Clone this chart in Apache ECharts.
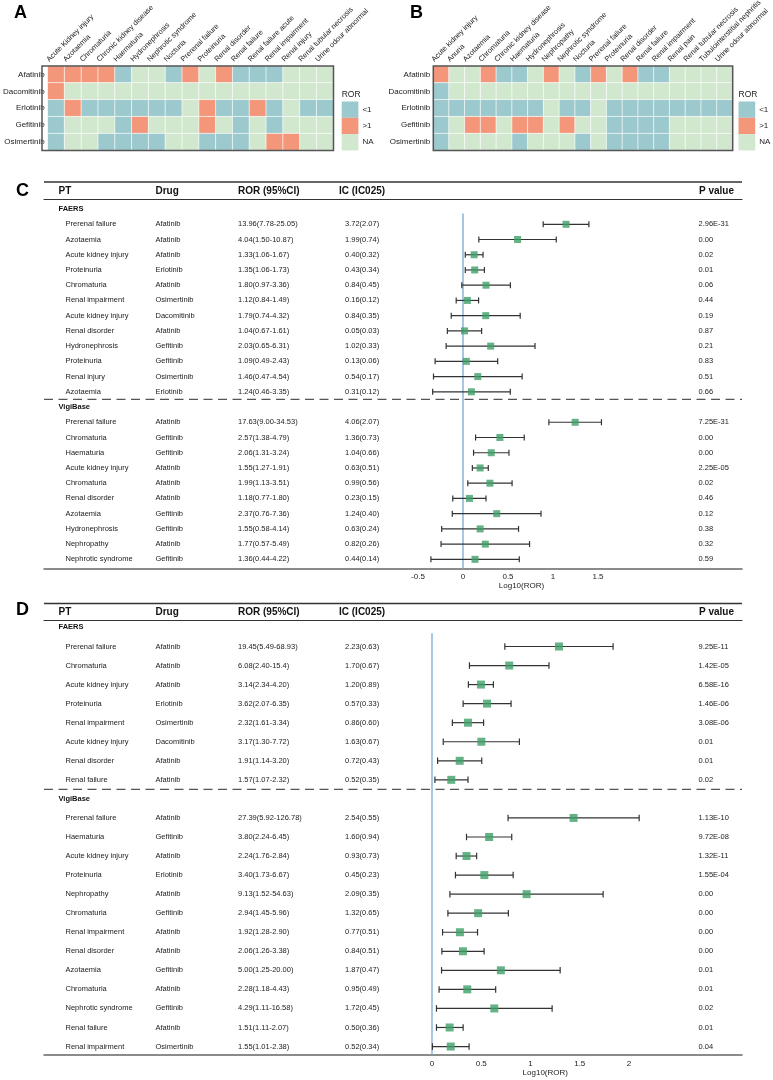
<!DOCTYPE html>
<html>
<head>
<meta charset="utf-8">
<script src="https://cdn.jsdelivr.net/npm/echarts@6.0.0/dist/echarts.min.js"></script>
<style>
  html, body { margin: 0; padding: 0; background: #fff; }
  #chart { width: 773px; height: 1080px; }
</style>
</head>
<body>
<div id="chart"></div>
<script>
  // ---- heatmaps (A: FAERS, B: VigiBase) ----
  const drugs = ['Afatinib', 'Dacomitinib', 'Erlotinib', 'Gefitinib', 'Osimertinib']
  const ptA = ['Acute Kidney injury', 'Azotaemia', 'Chromaturia', 'Chronic kidney disease', 'Haematuria',
    'Hydronephrosis', 'Nephrotic syndrome', 'Nocturia', 'Prerenal failure', 'Proteinuria', 'Renal disorder',
    'Renal failure', 'Renal failure acute', 'Renal impairment', 'Renal injury', 'Renal tubular necrosis',
    'Urine odour abnormal']
  const ptB = ['Acute kidney injury', 'Anuria', 'Azotaemia', 'Chromaturia', 'Chronic kidney disease', 'Haematuria',
    'Hydronephrosis', 'Nephropathy', 'Nephrotic syndrome', 'Nocturia', 'Prerenal failure', 'Proteinuria',
    'Renal disorder', 'Renal failure', 'Renal impairment', 'Renal pain', 'Renal tubular necrosis',
    'Tubulointerstitial nephritis', 'Urine odour abnormal']
  const rorLevels = ['<1', '>1', 'NA'] // 0, 1, 2
  const heatA = [
    [1, 1, 1, 1, 0, 2, 2, 0, 1, 2, 1, 0, 0, 0, 2, 2, 2],
    [1, 2, 2, 2, 2, 2, 2, 2, 2, 2, 2, 2, 2, 2, 2, 2, 2],
    [0, 1, 0, 0, 0, 0, 0, 0, 2, 1, 0, 0, 1, 0, 2, 0, 0],
    [0, 2, 2, 2, 0, 1, 2, 2, 2, 1, 2, 0, 2, 0, 2, 2, 2],
    [0, 2, 2, 0, 0, 0, 0, 2, 2, 0, 0, 0, 2, 1, 1, 2, 2]
  ]
  const heatB = [
    [1, 2, 2, 1, 0, 0, 2, 1, 2, 0, 1, 2, 1, 0, 0, 2, 2, 2, 2],
    [0, 2, 2, 2, 2, 2, 2, 2, 2, 2, 2, 2, 2, 2, 2, 2, 2, 2, 2],
    [0, 0, 0, 0, 0, 0, 0, 2, 0, 0, 2, 0, 0, 0, 0, 0, 0, 0, 0],
    [0, 2, 1, 1, 2, 1, 1, 2, 1, 2, 2, 0, 0, 0, 0, 2, 2, 2, 2],
    [0, 2, 2, 2, 2, 0, 2, 2, 2, 0, 2, 0, 0, 0, 0, 2, 2, 2, 2]
  ]

  // ---- forest tables ----
  const headers = ['PT', 'Drug', 'ROR (95%CI)', 'IC (IC025)', 'P value']
  const groups = ['FAERS', 'VigiBase']

  const cCount = [12, 10]
  const cPT = ['Prerenal failure', 'Azotaemia', 'Acute kidney injury', 'Proteinuria', 'Chromaturia', 'Renal impairment',
    'Acute kidney injury', 'Renal disorder', 'Hydronephrosis', 'Proteinuria', 'Renal injury', 'Azotaemia',
    'Prerenal failure', 'Chromaturia', 'Haematuria', 'Acute kidney injury', 'Chromaturia', 'Renal disorder',
    'Azotaemia', 'Hydronephrosis', 'Nephropathy', 'Nephrotic syndrome']
  const cDrug = ['Afatinib', 'Afatinib', 'Afatinib', 'Erlotinib', 'Afatinib', 'Osimertinib', 'Dacomitinib', 'Afatinib',
    'Gefitinib', 'Gefitinib', 'Osimertinib', 'Erlotinib',
    'Afatinib', 'Gefitinib', 'Gefitinib', 'Afatinib', 'Afatinib', 'Afatinib', 'Gefitinib', 'Gefitinib', 'Afatinib', 'Gefitinib']
  const cROR = ['13.96', '4.04', '1.33', '1.35', '1.80', '1.12', '1.79', '1.04', '2.03', '1.09', '1.46', '1.24',
    '17.63', '2.57', '2.06', '1.55', '1.99', '1.18', '2.37', '1.55', '1.77', '1.36']
  const cLow = ['7.78', '1.50', '1.06', '1.06', '0.97', '0.84', '0.74', '0.67', '0.65', '0.49', '0.47', '0.46',
    '9.00', '1.38', '1.31', '1.27', '1.13', '0.77', '0.76', '0.58', '0.57', '0.44']
  const cHigh = ['25.05', '10.87', '1.67', '1.73', '3.36', '1.49', '4.32', '1.61', '6.31', '2.43', '4.54', '3.35',
    '34.53', '4.79', '3.24', '1.91', '3.51', '1.80', '7.36', '4.14', '5.49', '4.22']
  const cIC = ['3.72', '1.99', '0.40', '0.43', '0.84', '0.16', '0.84', '0.05', '1.02', '0.13', '0.54', '0.31',
    '4.06', '1.36', '1.04', '0.63', '0.99', '0.23', '1.24', '0.63', '0.82', '0.44']
  const cIC025 = ['2.07', '0.74', '0.32', '0.34', '0.45', '0.12', '0.35', '0.03', '0.33', '0.06', '0.17', '0.12',
    '2.07', '0.73', '0.66', '0.51', '0.56', '0.15', '0.40', '0.24', '0.26', '0.14']
  const cP = ['2.96E-31', '0.00', '0.02', '0.01', '0.06', '0.44', '0.19', '0.87', '0.21', '0.83', '0.51', '0.66',
    '7.25E-31', '0.00', '0.00', '2.25E-05', '0.02', '0.46', '0.12', '0.38', '0.32', '0.59']

  const dCount = [8, 13]
  const dPT = ['Prerenal failure', 'Chromaturia', 'Acute kidney injury', 'Proteinuria', 'Renal impairment',
    'Acute kidney injury', 'Renal disorder', 'Renal failure',
    'Prerenal failure', 'Haematuria', 'Acute kidney injury', 'Proteinuria', 'Nephropathy', 'Chromaturia',
    'Renal impairment', 'Renal disorder', 'Azotaemia', 'Chromaturia', 'Nephrotic syndrome', 'Renal failure', 'Renal impairment']
  const dDrug = ['Afatinib', 'Afatinib', 'Afatinib', 'Erlotinib', 'Osimertinib', 'Dacomitinib', 'Afatinib', 'Afatinib',
    'Afatinib', 'Gefitinib', 'Afatinib', 'Erlotinib', 'Afatinib', 'Gefitinib', 'Afatinib', 'Afatinib', 'Gefitinib',
    'Afatinib', 'Gefitinib', 'Afatinib', 'Osimertinib']
  const dROR = ['19.45', '6.08', '3.14', '3.62', '2.32', '3.17', '1.91', '1.57',
    '27.39', '3.80', '2.24', '3.40', '9.13', '2.94', '1.92', '2.06', '5.00', '2.28', '4.29', '1.51', '1.55']
  const dLow = ['5.49', '2.40', '2.34', '2.07', '1.61', '1.30', '1.14', '1.07',
    '5.92', '2.24', '1.76', '1.73', '1.52', '1.45', '1.28', '1.26', '1.25', '1.18', '1.11', '1.11', '1.01']
  const dHigh = ['68.93', '15.4', '4.20', '6.35', '3.34', '7.72', '3.20', '2.32',
    '126.78', '6.45', '2.84', '6.67', '54.63', '5.96', '2.90', '3.38', '20.00', '4.43', '16.58', '2.07', '2.38']
  const dIC = ['2.23', '1.70', '1.20', '0.57', '0.86', '1.63', '0.72', '0.52',
    '2.54', '1.60', '0.93', '0.45', '2.09', '1.32', '0.77', '0.84', '1.87', '0.95', '1.72', '0.50', '0.52']
  const dIC025 = ['0.63', '0.67', '0.89', '0.33', '0.60', '0.67', '0.43', '0.35',
    '0.55', '0.94', '0.73', '0.23', '0.35', '0.65', '0.51', '0.51', '0.47', '0.49', '0.45', '0.36', '0.34']
  const dP = ['9.25E-11', '1.42E-05', '6.58E-16', '1.46E-06', '3.08E-06', '0.01', '0.01', '0.02',
    '1.13E-10', '9.72E-08', '1.32E-11', '1.55E-04', '0.00', '0.00', '0.00', '0.00', '0.01', '0.01', '0.02', '0.01', '0.04']

  const forestTicks = [-0.5, 0, 0.5, 1, 1.5, 2]

  // ---- styles / layout ----
  const FONT = '"Liberation Sans", Arial, sans-serif'
  const cellColors = ['#9bc9cd', '#f3967a', '#d1e7ce']
  const SQUARE = '#3e9f68'
  const ZERO_LINE = '#7ba7d9'
  const TABLE_LEFT = 44
  const TABLE_W = 698
  const COL_X = [21.5, 111.5, 194, 301, 654.5]     // body text offsets from TABLE_LEFT
  const HEAD_X = [14.5, 111.5, 194, 295, 655]
  const GROUP_X = 14.5

  const layoutA = {left: 42, top: 66, width: 291.5, height: 84.5, legendLeft: 341.7, letterX: 14}
  const layoutB = {left: 433.3, top: 66, width: 299.4, height: 84.5, legendLeft: 738.5, letterX: 410}
  const layoutC = {top: 199, rowH: 15.23, yMin: -0.66, yMax: 23.63, topRule: 182, headerY: 191, letterY: 191,
    zeroX: 463, unit: 90, xMin: -0.5, xMax: 1.8, sq: 7, cap: 6, labelMargin: 4, nameGap: 10}
  const layoutD = {top: 620, rowH: 19.05, yMin: -0.39, yMax: 22.44, topRule: 603.5, headerY: 612, letterY: 610,
    zeroX: 432, unit: 98.5, xMin: 0, xMax: 2.3, sq: 8, cap: 6.5, labelMargin: 5, nameGap: 12}

  const option = {
    animation: false,
    backgroundColor: '#fff',
    textStyle: {fontFamily: FONT},
    grid: [], xAxis: [], yAxis: [], series: [], visualMap: [], graphic: []
  }

  function addHeatmap(pts, values, L, letter) {
    const gi = option.grid.length
    option.grid.push({left: L.left, top: L.top, width: L.width, height: L.height})
    option.xAxis.push({
      type: 'category', gridIndex: gi, position: 'top', data: pts,
      axisLine: {show: false}, axisTick: {show: false}, axisLabel: {show: false}
    })
    option.yAxis.push({
      type: 'category', gridIndex: gi, inverse: true, data: drugs,
      axisLine: {show: false}, axisTick: {show: false},
      axisLabel: {margin: 3, fontSize: 8, color: '#222', fontFamily: FONT}
    })
    const si = option.series.length
    option.series.push({
      type: 'heatmap', xAxisIndex: gi, yAxisIndex: gi,
      data: values.flatMap((row, y) => row.map((v, x) => [x, y, v])),
      itemStyle: {borderColor: 'rgba(255,255,255,0.85)', borderWidth: 0.8},
      emphasis: {disabled: true}
    })
    // slanted column labels, placed from the category axis
    option.series.push({
      type: 'custom', xAxisIndex: gi, yAxisIndex: gi, silent: true, clip: false,
      data: pts.map((p, i) => [i, 0]), encode: {x: 0, y: 1},
      renderItem: (params, api) => {
        const c = api.coord([api.value(0), 0])
        return {type: 'text', x: c[0] - 6, y: params.coordSys.y - 3, rotation: Math.PI / 4,
          style: {text: pts[params.dataIndex], fontSize: 7.4, fill: '#222', fontFamily: FONT, align: 'left', verticalAlign: 'bottom'}}
      }
    })
    option.visualMap.push({
      type: 'piecewise', seriesIndex: si, dimension: 2, orient: 'vertical', inverse: true, align: 'left',
      left: L.legendLeft, top: 101.5, padding: 0, itemWidth: 16.7, itemHeight: 16.3, itemGap: 0, textGap: 4,
      itemSymbol: 'rect', selectedMode: false,
      pieces: rorLevels.map((l, i) => ({value: i, label: l, color: cellColors[i]})),
      textStyle: {fontSize: 8, color: '#222', fontFamily: FONT}
    })
    option.graphic.push(
      {type: 'rect', z: 100, shape: {x: L.left, y: L.top, width: L.width, height: L.height},
        style: {fill: 'none', stroke: '#555', lineWidth: 1.5}},
      {type: 'text', x: L.legendLeft, y: 95, style: {text: 'ROR', fontSize: 8.5, fill: '#222', fontFamily: FONT, verticalAlign: 'middle'}},
      {type: 'text', x: L.letterX, y: 13, style: {text: letter, fontSize: 18, fontWeight: 'bold', fill: '#000', fontFamily: FONT, verticalAlign: 'middle'}}
    )
  }

  function addForest(d, L, letter) {
    const height = (L.yMax - L.yMin) * L.rowH
    const items = []
    const points = []
    let y = 0, k = 0
    groups.forEach((g, gi) => {
      items.push({y, group: g})
      y++
      for (let j = 0; j < d.count[gi]; j++, k++, y++) {
        items.push({y, cells: [d.pt[k], d.drug[k], `${d.ror[k]}(${d.low[k]}-${d.high[k]})`, `${d.ic[k]}(${d.ic025[k]})`, d.p[k]]})
        points.push([Math.log10(+d.ror[k]), y, Math.log10(+d.low[k]), Math.log10(+d.high[k])])
      }
    })
    const sepY = d.count[0] + 0.5

    // table grid (text, rules, separator)
    const tg = option.grid.length
    option.grid.push({left: TABLE_LEFT, width: TABLE_W, top: L.top, height})
    const tx = option.xAxis.length
    option.xAxis.push(
      {type: 'value', gridIndex: tg, min: 0, max: TABLE_W, position: 'bottom',
        axisLine: {show: true, onZero: false, lineStyle: {color: '#666', width: 1.5}}, axisTick: {show: false},
        axisLabel: {show: false}, splitLine: {show: false}},
      {type: 'value', gridIndex: tg, min: 0, max: TABLE_W, position: 'top',
        axisLine: {show: true, onZero: false, lineStyle: {color: '#333', width: 1.2}}, axisTick: {show: false},
        axisLabel: {show: false}, splitLine: {show: false}}
    )
    const ty = option.yAxis.length
    option.yAxis.push({type: 'value', gridIndex: tg, inverse: true, min: L.yMin, max: L.yMax, show: false})

    // forest grid
    const fg = option.grid.length
    option.grid.push({left: L.zeroX + L.xMin * L.unit, width: (L.xMax - L.xMin) * L.unit, top: L.top, height})
    const fx = option.xAxis.length
    option.xAxis.push({
      type: 'value', gridIndex: fg, min: L.xMin, max: L.xMax, interval: 0.5,
      name: 'Log10(ROR)', nameLocation: 'middle', nameGap: L.nameGap,
      nameTextStyle: {fontSize: 8, color: '#222', fontFamily: FONT},
      axisLine: {show: false, onZero: false}, axisTick: {show: false}, splitLine: {show: false},
      axisLabel: {margin: L.labelMargin, fontSize: 8, color: '#222', fontFamily: FONT, showMaxLabel: false,
        formatter: v => forestTicks.includes(v) ? String(v) : ''}
    })
    const fy = option.yAxis.length
    option.yAxis.push({type: 'value', gridIndex: fg, inverse: true, min: L.yMin, max: L.yMax, show: false})

    option.series.push(
      {
        type: 'custom', xAxisIndex: tx, yAxisIndex: ty, silent: true,
        data: items.map(it => [0, it.y]), encode: {x: 0, y: 1},
        renderItem: (params, api) => {
          const it = items[params.dataIndex]
          const base = api.coord([0, it.y])
          if (it.group) {
            return {type: 'text', x: base[0] + GROUP_X, y: base[1],
              style: {text: it.group, fontSize: 7.5, fontWeight: 'bold', fill: '#111', fontFamily: FONT, verticalAlign: 'middle'}}
          }
          return {type: 'group', children: it.cells.map((t, j) => ({
            type: 'text', x: base[0] + COL_X[j], y: base[1],
            style: {text: t, fontSize: 7.5, fill: '#222', fontFamily: FONT, verticalAlign: 'middle'}
          }))}
        }
      },
      {
        type: 'line', xAxisIndex: tx, yAxisIndex: ty, silent: true, symbol: 'none',
        data: [[0, sepY], [TABLE_W, sepY]],
        lineStyle: {color: '#555', width: 1.3, type: [9, 5.5]}
      },
      {
        type: 'line', xAxisIndex: fx, yAxisIndex: fy, silent: true, symbol: 'none', z: 1,
        data: [[0, 0.3], [0, L.yMax]],
        lineStyle: {color: ZERO_LINE, width: 1.3}
      },
      {
        type: 'custom', xAxisIndex: fx, yAxisIndex: fy, silent: true, clip: false,
        data: points, encode: {x: [0, 2, 3], y: 1},
        renderItem: (params, api) => {
          const a = api.coord([api.value(2), api.value(1)])
          const b = api.coord([api.value(3), api.value(1)])
          const h = L.cap / 2
          const st = {stroke: '#333', lineWidth: 1.2}
          return {type: 'group', children: [
            {type: 'line', shape: {x1: a[0], y1: a[1], x2: b[0], y2: b[1]}, style: st},
            {type: 'line', shape: {x1: a[0], y1: a[1] - h, x2: a[0], y2: a[1] + h}, style: st},
            {type: 'line', shape: {x1: b[0], y1: b[1] - h, x2: b[0], y2: b[1] + h}, style: st}
          ]}
        }
      },
      {
        type: 'scatter', xAxisIndex: fx, yAxisIndex: fy, silent: true, clip: false, z: 5,
        symbol: 'rect', symbolSize: L.sq,
        data: points.map(p => [p[0], p[1]]),
        itemStyle: {color: SQUARE}
      }
    )

    option.graphic.push(
      {type: 'line', shape: {x1: TABLE_LEFT, y1: L.topRule, x2: TABLE_LEFT + TABLE_W, y2: L.topRule},
        style: {stroke: '#333', lineWidth: 1.5}},
      {type: 'text', x: 16, y: L.letterY, style: {text: letter, fontSize: 18, fontWeight: 'bold', fill: '#000', fontFamily: FONT, verticalAlign: 'middle'}},
      ...headers.map((h, j) => ({
        type: 'text', x: TABLE_LEFT + HEAD_X[j], y: L.headerY,
        style: {text: h, fontSize: 10, fontWeight: 'bold', fill: '#111', fontFamily: FONT, verticalAlign: 'middle'}
      }))
    )
  }

  addHeatmap(ptA, heatA, layoutA, 'A')
  addHeatmap(ptB, heatB, layoutB, 'B')
  addForest({count: cCount, pt: cPT, drug: cDrug, ror: cROR, low: cLow, high: cHigh, ic: cIC, ic025: cIC025, p: cP}, layoutC, 'C')
  addForest({count: dCount, pt: dPT, drug: dDrug, ror: dROR, low: dLow, high: dHigh, ic: dIC, ic025: dIC025, p: dP}, layoutD, 'D')

  const chart = echarts.init(document.getElementById('chart'), null, {renderer: 'canvas'})
  chart.setOption(option)
</script>
</body>
</html>
